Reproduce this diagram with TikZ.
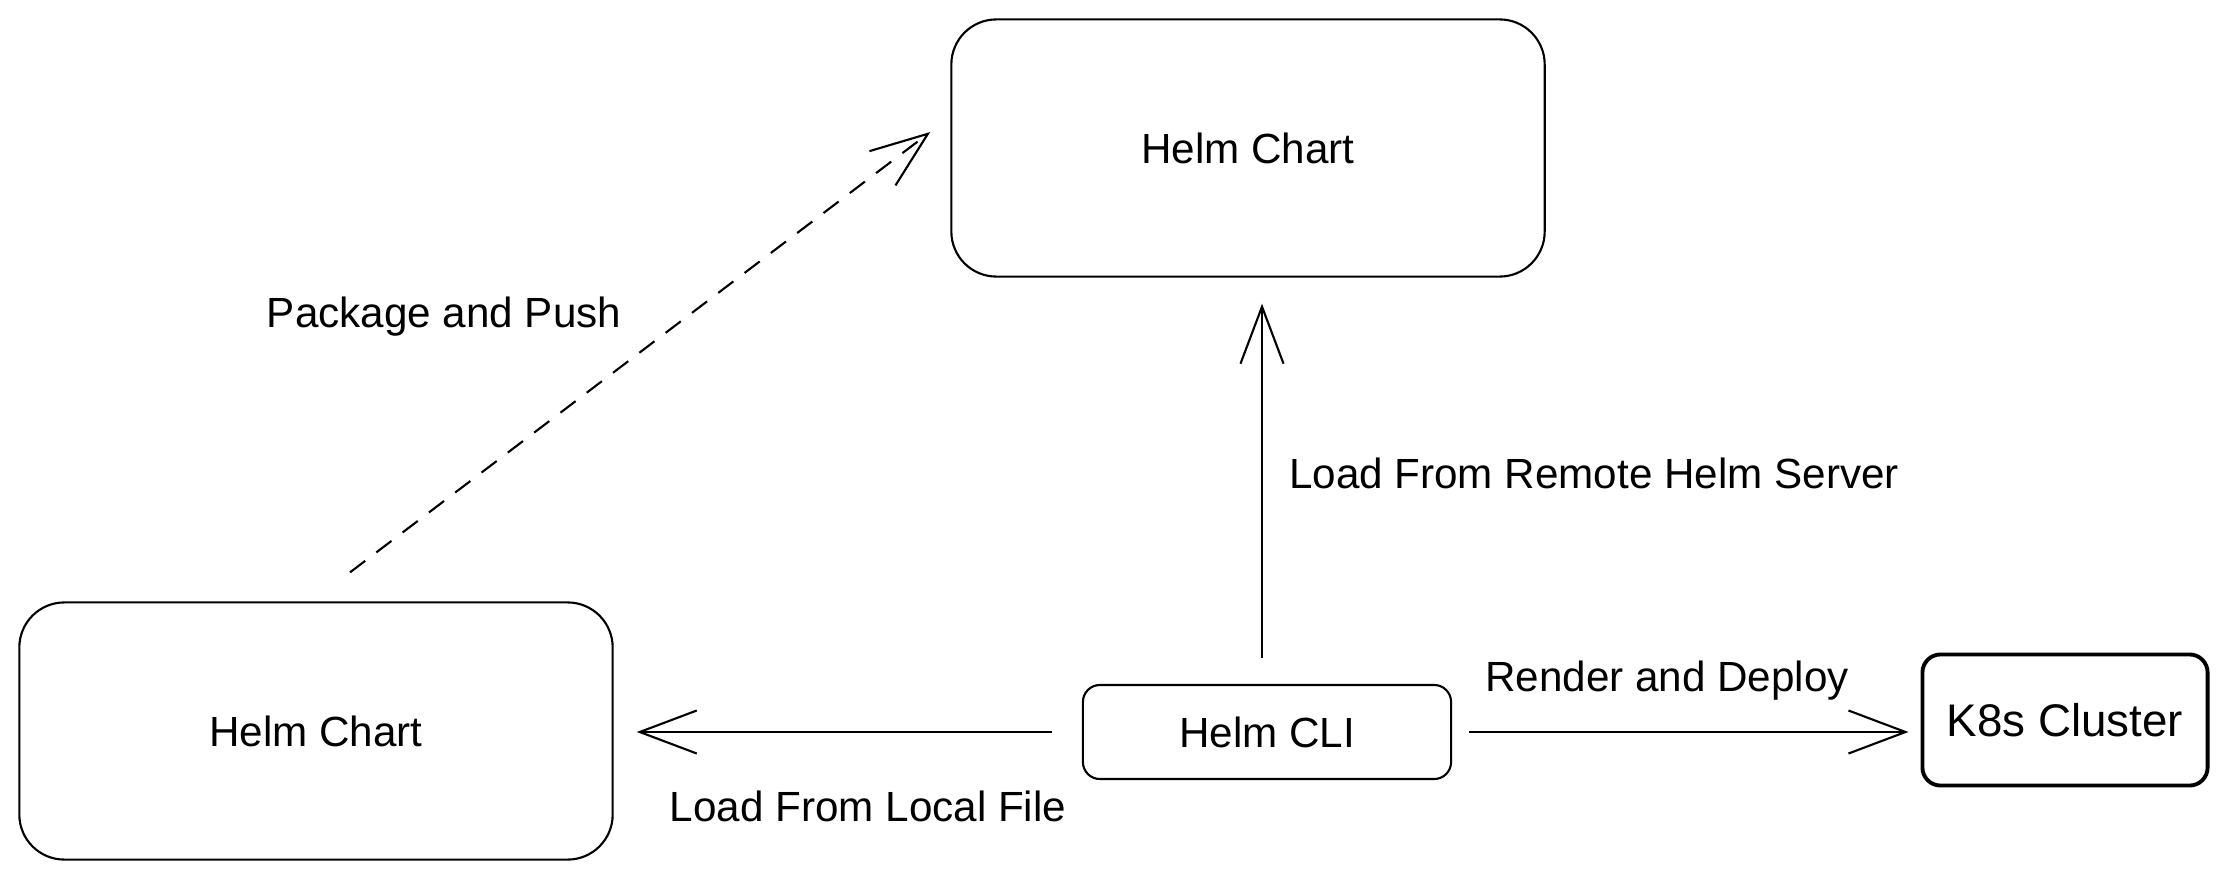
\documentclass[tikz,border=0pt]{standalone}
\usepackage{fontspec}
\setmainfont{Liberation Sans}
\usetikzlibrary{arrows.meta,calc}

\begin{document}
\begin{tikzpicture}[x=0.01cm,y=-0.01cm,line width=0.6pt,
  font=\fontsize{12}{14}\selectfont,
  chart/.style={draw,rounded corners=0.45cm,minimum width=5.93cm,minimum height=2.57cm},
  clibox/.style={draw,rounded corners=0.17cm,minimum width=3.68cm,minimum height=0.94cm},
  k8sbox/.style={draw,line width=1.1pt,rounded corners=0.18cm,minimum width=2.85cm,minimum height=1.31cm,font=\fontsize{13}{15}\selectfont},
  barb/.style={-{Straight Barb[length=0.57cm,width=0.43cm]}}]
\useasboundingbox(0,0)rectangle(2228,879);
\node[chart](chartT)at(1248,148){Helm Chart};
\node[chart](chartL)at(316,731){Helm Chart};
\node[clibox](cli)at(1267,732){Helm CLI};
\node[k8sbox](k8s)at(2065,720){K8s Cluster};
\draw[barb,dash pattern=on 0.19cm off 0.14cm]([shift={(0.34cm,0.29cm)}]chartL.north)--([shift={(-0.2cm,0.16cm)}]chartT.west);
\draw[barb]([shift={(-0.05cm,0.26cm)}]cli.north)--([shift={(-0.05cm,-0.26cm)}]cli.north|-chartT.south);
\draw[barb]([xshift=-0.3cm]cli.west)--([xshift=0.23cm]cli.west-|chartL.east);
\draw[barb]([xshift=0.17cm]cli.east)--([xshift=-0.12cm]cli.east-|k8s.west);
\node(push)at(444,317){Package and Push};
\node(remote)at(1594,473){Load From Remote Helm Server};
\node(local)at(868,806){Load From Local File};
\node(deploy)at(1667,681){Render and Deploy};
\end{tikzpicture}
\end{document}
